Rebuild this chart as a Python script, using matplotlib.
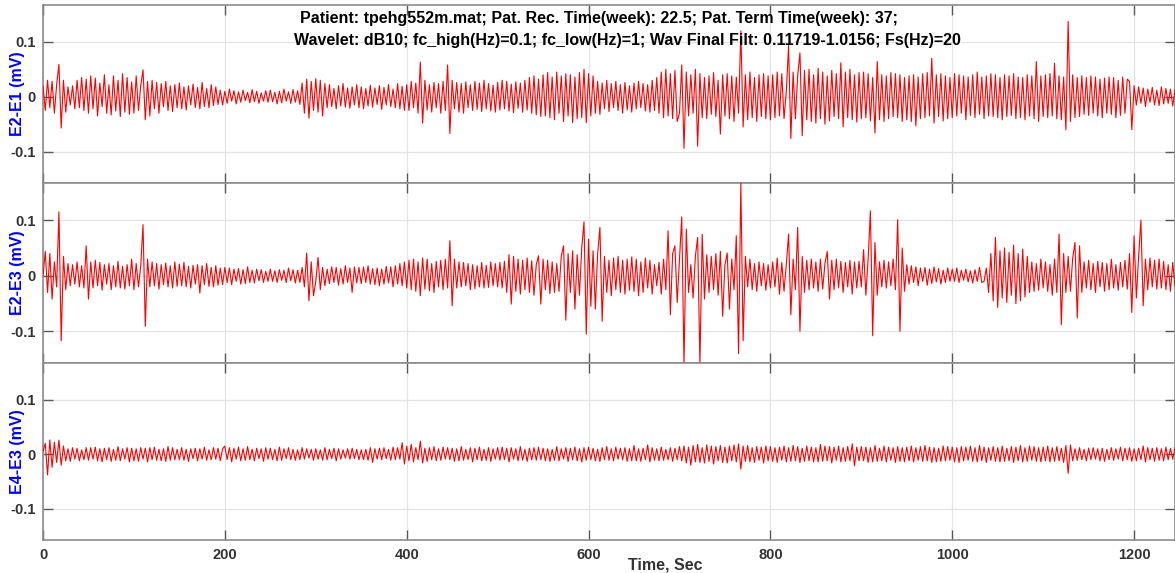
import matplotlib
matplotlib.use('Agg')
import matplotlib.pyplot as plt
import numpy as np

# ----------------------------------------------------------------------------
# EHG traces, in uV, one sample every 2.5 s
# (each row below is 50 s)
step_sec = 2.5

e2_e1 = [
    20, -25, 30, -20, 28, -30, 22, 59, -57, 30, -28, 18, -15, 20, -22, 30, -20, 35, -25, 32,
    -30, 38, -22, 34, -35, 25, -18, 40, -30, 22, -33, 38, -26, 30, -36, 42, -28, 35, -32, 27,
    -30, 38, -25, 20, 49, -42, 28, -35, 30, -22, 26, -30, 24, -18, 28, -25, 20, -27, 22, -20,
    25, -22, 18, -24, 20, -15, 23, -20, 17, -22, 26, -18, 15, -20, 22, -16, 18, -14, 12, -15,
    10, -12, 14, -8, 11, -13, 9, -10, 12, -7, 8, -11, 13, -9, 10, -12, 7, -8, 11, -10,
    12, -9, 8, -13, 10, -11, 14, -8, 9, -12, 13, -10, 11, -14, 25, -30, 32, -39, 28, -25,
    33, -28, 30, -35, 24, -20, 22, -18, 15, -22, 20, -17, 24, -19, 16, -21, 18, -15, 22, -20,
    18, -22, 15, -17, 21, -19, 16, -14, 20, -23, 17, -15, 22, -18, 14, -20, 24, -22, 19, -25,
    22, -25, 28, -20, 25, -30, 63, -48, 30, -24, 22, -28, 26, -20, 24, -30, 28, -25, 58, -67,
    30, -22, 26, -28, 24, -30, 27, -20, 22, -25, 28, -23, 25, -27, 30, -22, 24, -26, 21, -28,
    26, -24, 30, -22, 28, -26, 23, -29, 27, -21, 25, -28, 30, -24, 35, -30, 38, -33, 32, -36,
    40, -35, 44, -38, 36, -42, 45, -30, 38, -45, 42, -35, 40, -47, 36, -40, 44, -38, 50, -47,
    42, -35, 38, -30, 28, -32, 25, -22, 30, -27, 24, -20, 28, -25, 22, -30, 26, -24, 20, -28,
    25, -22, 28, -20, 24, -26, 22, -28, 30, -25, 35, -30, 45, -38, 50, -35, 42, -40, 48, -45,
    -30, 58, -94, 45, -35, 40, -30, 50, -90, 42, -38, 35, -40, 38, -32, 44, -36, 30, -68, 40,
    -35, 42, -40, 38, -45, 36, -30, 120, -55, 40, -42, 45, -38, 35, -45, 40, -36, 42, -40, 38,
    -42, 40, -38, 45, -35, 42, -40, 10, 93, -76, 45, -40, 38, 80, -71, 48, -42, 50, -45, 40,
    -48, 52, -40, 45, -50, 38, -44, 48, -36, 42, -40, 62, -55, 45, -38, 50, -42, 40, -46, 44,
    -40, 45, -38, 42, -44, 35, -66, 64, -42, 40, -45, 38, -40, 44, -36, 42, -38, 40, -45, 35,
    -42, 38, -45, 40, -53, 36, -40, 42, -38, 44, -35, 70, -48, 40, -36, 42, -44, 38, -40, 35,
    -38, 42, -35, 40, -30, 38, -42, 36, -34, 40, -38, 45, -32, 36, -40, 38, -35, 42, -36, 40,
    -38, 35, -42, 40, -36, 38, -34, 42, -40, 36, -38, 35, -42, 40, -35, 38, -40, 64, -45, 38,
    -36, 40, -38, 42, -35, 61, -40, 38, -42, 36, -60, 137, -45, 40, -38, 35, -36, 38, -32, 35,
    -34, 38, -30, 36, -35, 32, -38, 34, -30, 36, -32, 35, -38, 30, -34, 36, -30, 32, 28, -60,
    20, -15, 18, -12, 16, -18, 14, -10, 17, -15, 12, -16, 18, -13, 15, -12, 14, -17, 12,
]

e2_e3 = [
    0, 44, -30, 40, -42, 25, -20, 115, -117, 35, -25, 22, -18, 20, -15, 25, -20, 18, -22, 54,
    -42, 25, -22, 28, -18, 24, -26, 20, -15, 22, -25, 18, -20, 26, -22, 17, -24, 20, -18, 30,
    -25, 22, -20, 18, 92, -91, 30, -20, 25, -18, 22, -24, 20, -16, 23, -20, 18, -22, 25, -19,
    21, -18, 24, -20, 17, -22, 19, -15, 20, -31, 18, -16, 22, -19, 15, -20, 18, -17, 14, -16,
    15, -12, 14, -16, 12, -10, 13, -15, 11, -14, 16, -12, 10, -13, 12, -9, 11, -12, 8, -10,
    12, -10, 9, -12, 11, -8, 10, -12, 14, -9, 11, -13, 10, -12, 15, -20, 41, -45, 25, -36,
    -10, 33, -25, 15, -18, 12, -14, 16, -12, 15, -17, 13, -15, 18, -12, 14, -30, 16, -13, 15,
    -14, 16, -12, 18, -15, 13, -16, 14, -18, 12, -15, 17, -13, 16, -20, 18, -15, 22, -18, 25,
    -22, 28, -25, 30, -28, 25, -36, 32, -24, 30, -27, 22, -30, 26, -20, 28, -25, 30, -22, 63,
    -54, 30, -22, 25, -20, 24, -18, 22, -25, 20, -23, 18, -20, 24, -22, 19, -21, 25, -18, 22,
    -20, 24, -22, 26, -30, 38, -51, 35, -28, 30, -33, 28, -25, 32, -30, 27, -35, 20, 36, -51,
    30, -25, 28, -32, 25, -30, 22, -28, 35, 54, -80, 40, -30, 45, -60, 38, -35, 50, 97, -105,
    66, -55, 45, -60, 40, 87, -82, 35, -30, 28, -36, 32, -25, 35, -30, 28, -33, 30, -26, 34,
    -28, 30, -36, 25, -30, 32, -22, 28, -33, 20, -18, 24, -33, 30, -25, 81, -70, 40, 54, -48,
    30, 106, -160, 84, -30, 20, -40, 35, 69, -160, 75, -42, 38, -30, 35, -25, 40, -35, 44, -73,
    20, 41, -60, 30, -25, 72, -140, 167, -117, 35, -20, 30, -25, 22, -28, 25, -18, 22, -26, 20,
    -22, 25, -20, 32, -33, 24, -28, 20, 75, -70, 30, -25, 87, -100, 35, -30, 28, -25, 30, -22,
    25, -28, 30, -24, 22, 44, -42, 28, -25, 30, -22, 26, -30, 24, -20, 28, -33, 25, -22, 26,
    -20, 47, -35, 30, 117, -108, 60, -35, 25, -20, 28, -22, 25, -18, 30, -25, 101, -100, 50, -28,
    20, -15, 18, -12, 16, -18, 14, -10, 15, -17, 12, -14, 16, -11, 13, -15, 10, -12, 14, -10,
    12, -10, 14, -12, 10, -8, 12, -11, 9, -13, 11, -10, 15, -12, -10, 14, -30, 40, -45, 69,
    -57, 45, -40, 50, -48, 42, -35, 55, -50, 40, -45, 48, -38, 35, -30, 25, -28, 22, -26, 30,
    -22, 25, -28, 20, -35, 30, -30, 75, -88, 40, -30, 35, -28, 32, 60, -76, 54, -30, 25, -22,
    28, -25, 22, -30, 26, -20, 24, -28, 22, -25, 30, -22, 20, -26, 24, -20, 28, -24, 40, -66,
    72, -40, 35, 100, -54, 30, -25, 32, -20, 28, -24, 30, -22, 26, -25, 20, -28, 24, -20,
]

e4_e3 = [
    5, 20, -38, 26, -24, 22, -15, 26, -20, 15, -12, 10, -13, 12, -9, 11, -12, 8, -10, 12,
    -11, 12, -9, 13, -12, 10, -14, 11, -10, 12, -13, 9, -11, 14, -12, 10, -9, 12, -14, 11,
    -12, 10, -13, 12, -9, 11, -14, 12, -10, 13, -11, 9, -12, 10, -13, 14, -11, 12, -10, 9,
    -10, 12, -11, 9, -13, 10, -8, 11, -12, 10, -9, 13, -11, 8, -10, 12, -9, 11, -12, 10,
    15, -10, 12, -14, 11, -9, 13, -12, 10, -11, 14, -10, 9, -12, 11, -8, 10, -13, 12, -9,
    11, -10, 9, -12, 13, -11, 10, -8, 12, -10, 9, -11, 8, -10, 12, -9, 10, -7, 9, -11,
    10, -9, 8, -11, 12, -10, 9, -8, 11, -12, 10, -9, 8, -7, 10, -9, 11, -8, 9, -10,
    8, -10, 9, -11, 12, -15, 10, -9, 11, -10, 12, -8, 9, -11, 13, -10, 12, -9, 21, -18,
    15, -12, 18, -14, 12, -10, 24, -16, 11, -13, 12, -10, 14, -12, 10, -11, 13, -9, 12, -10,
    11, -13, 10, -12, 14, -11, 9, -10, 12, -14, 11, -10, 13, -12, 9, -11, 12, -13, 10, -9,
    12, -11, 13, -10, 11, -14, 12, -9, 10, -12, 14, -11, 9, -13, 11, -10, 12, -11, 13, -10,
    11, -12, 10, -13, 9, -11, 14, -12, 10, -9, 12, -13, 11, -10, 13, -12, 10, -14, 12, -11,
    13, -10, 11, -12, 9, -13, 12, -10, 14, -11, 10, -12, 13, -9, 11, -10, 12, -13, 10, -12,
    16, -12, 10, -13, 11, -10, 17, -14, 12, -11, 10, -12, 13, -11, 9, -10, 12, -13, 11, -10,
    14, -12, 15, -16, 13, -20, 16, -14, 18, -15, 12, -16, 17, -13, 15, -18, 14, -12, 16, -15,
    13, -16, 15, -12, 17, -14, 19, -27, 15, -13, 16, -14, 12, -15, 14, -11, 13, -16, 15, -12,
    14, -13, 12, -15, 13, -11, 15, -14, 12, -13, 16, -12, 14, -15, 11, -13, 15, -12, 13, -14,
    12, -14, 18, -13, 15, -12, 14, -16, 13, -11, 15, -14, 12, -13, 14, -12, 19, -21, 13, -12,
    14, -12, 13, -15, 12, -14, 16, -13, 11, -12, 15, -14, 13, -11, 12, -15, 14, -13, 12, -14,
    13, -12, 15, -14, 12, -11, 14, -13, 16, -12, 13, -15, 12, -14, 11, -13, 15, -12, 14, -11,
    13, -14, 12, -15, 14, -12, 13, -11, 15, -13, 12, -14, 16, -12, 13, -15, 12, -11, 14, -13,
    12, -14, 15, -13, 11, -12, 14, -15, 13, -12, 16, -14, 12, -13, 15, -11, 14, -13, 12, -14,
    13, -12, 15, -14, 12, -13, 14, -12, 11, -15, 16, -35, 17, -12, 10, -11, 12, -10, 9, -12,
    11, -10, 12, -9, 10, -12, 11, -13, 9, -10, 12, -11, 10, -9, 13, -12, 11, -10, 12, -13,
    10, -12, 11, -10, 15, -14, 12, -10, 11, -13, 12, -11, 10, -12, 13, -10, 11, -9, 12,
]

traces = [e2_e1, e2_e3, e4_e3]
channel_labels = ['E2-E1 (mV)', 'E2-E3 (mV)', 'E4-E3 (mV)']
x_ticks = [0, 200, 400, 600, 800, 1000, 1200]
y_ticks = [-0.1, 0, 0.1]
y_tick_labels = ['-0.1', '0', '0.1']
title_lines = [
    'Patient: tpehg552m.mat; Pat. Rec. Time(week): 22.5; Pat. Term Time(week): 37;',
    'Wavelet: dB10; fc_high(Hz)=0.1; fc_low(Hz)=1; Wav Final Filt: 0.11719-1.0156; Fs(Hz)=20',
]
x_label = 'Time, Sec'

# ----------------------------------------------------------------------------
plt.rcParams['font.family'] = ['Liberation Sans', 'DejaVu Sans']
plt.rcParams['font.weight'] = 'bold'

W, H = 1175, 573
fig = plt.figure(figsize=(W / 100, H / 100), dpi=100)


def px_box(left, top, right, bottom):
    # pixel box of the picture -> figure fraction
    return [left / W, 1 - bottom / H, (right - left) / W, (bottom - top) / H]


panel_px = [(5, 183), (183, 363), (363, 540)]

for i, (trace, name) in enumerate(zip(traces, channel_labels)):
    top, bottom = panel_px[i]
    ax = fig.add_axes(px_box(43, top, 1175, bottom))
    t = np.arange(len(trace)) * step_sec
    ax.plot(t, np.array(trace) / 1000.0, color='red', lw=0.8, zorder=3)

    ax.set_xlim(0, 1245)
    ax.set_ylim(-0.157, 0.167)
    ax.set_xticks(x_ticks)
    ax.set_yticks(y_ticks)
    ax.set_yticklabels(y_tick_labels)
    ax.grid(True, color='#e4e4e4', lw=0.9)
    ax.set_axisbelow(True)
    ax.tick_params(direction='in', length=7, width=1.0, top=True, right=True,
                   color='#5a5a5a', labelsize=10.5, labelcolor='#333333')
    ax.tick_params(axis='y', pad=5)
    ax.tick_params(axis='x', pad=6)
    if i < 2:
        ax.tick_params(labelbottom=False)
    for s in ax.spines.values():
        s.set_color('#8c8c8c')
        s.set_linewidth(1.2)

    fig.text(18 / W, 1 - ((top + bottom) / 2) / H, name, rotation=90,
             ha='center', va='center', color='#0000ff', fontsize=11.5,
             fontweight='bold')

# title lines sit inside the top panel, left aligned
fig.text(300 / W, 1 - 18 / H, title_lines[0], ha='left', va='center',
         fontsize=11.5, fontweight='bold', color='black')
fig.text(294 / W, 1 - 41 / H, title_lines[1], ha='left', va='center',
         fontsize=11.5, fontweight='bold', color='black')

fig.text(665 / W, 1 - 565 / H, x_label, ha='center', va='center',
         fontsize=11.5, fontweight='bold', color='#333333')

fig.savefig('out.png', dpi=100)
